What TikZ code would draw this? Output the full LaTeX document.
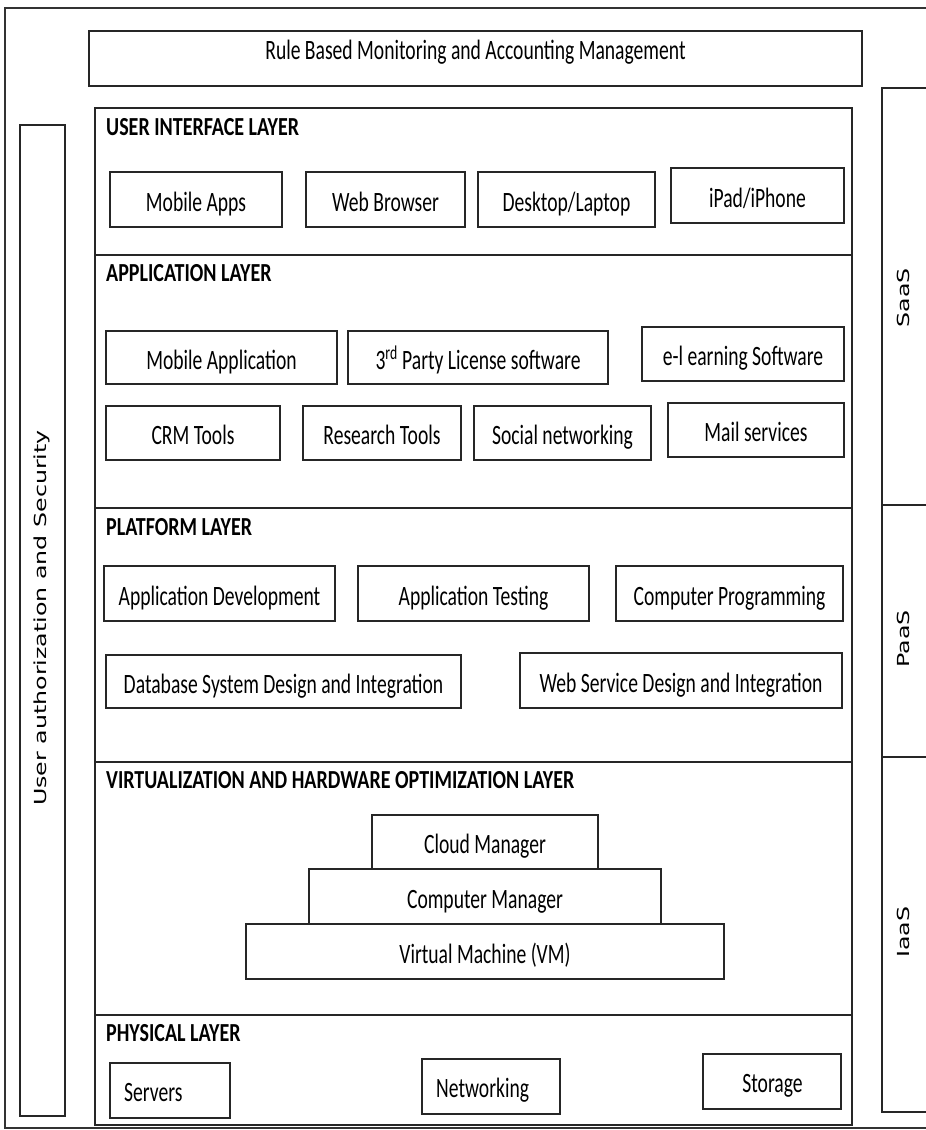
\documentclass[tikz,border=0pt]{standalone}
\usepackage{graphicx}
\usepackage{fontspec}
\setmainfont{Carlito}[FakeStretch=0.7]
\newfontfamily\hdfont{Carlito}[FakeStretch=0.77]
\newfontfamily\vfont{DejaVu Sans}
\usetikzlibrary{calc}
\tikzset{
  bx/.style={draw=black!85, line width=1.2pt, inner sep=0pt, text height=23pt, text depth=0pt, font=\fontsize{28}{31}\selectfont},
  band/.style={draw=black!85, line width=1.2pt, inner sep=0pt},
  hd/.style={anchor=base west, inner sep=0pt, font=\hdfont\bfseries\fontsize{26}{29}\selectfont},
  txt/.style={inner sep=0pt, font=\fontsize{28}{31}\selectfont},
  vtxt/.style={rotate=90, inner sep=0pt, font=\vfont\fontsize{23.7}{26}\selectfont},
  frame/.style={draw=black!80, line width=1.2pt}
}
\begin{document}
\begin{tikzpicture}[x=1pt,y=-1pt]
\useasboundingbox (0,0) rectangle (926,1130);
% outer frame
\coordinate (o1) at (940,8);
\coordinate (o2) at (5,1128);
\coordinate (o3) at (940,1128);
\draw[frame] (o1) -| (o2) -- (o3);
% top box
\node[band, minimum width=773pt, minimum height=55pt] (rule) at (475.5,58.5) {};
\node[txt, anchor=base] (rulet) at (475.5,59) {Rule Based Monitoring and Accounting Management};
% left box
\node[band, minimum width=45pt, minimum height=991pt] (sec) at (42.5,620.5) {};
\node[vtxt] (sect) at (42,618) {\scalebox{1}[0.7]{User authorization and Security}};
% right column
\node[band, minimum width=60pt, minimum height=417pt] (saas) at (912,296.5) {};
\node[band, minimum width=60pt, minimum height=252pt] (paas) at (912,631) {};
\node[band, minimum width=60pt, minimum height=355pt] (iaas) at (912,934.5) {};
\node[vtxt] (saast) at (903,298) {\scalebox{1}[0.7]{SaaS}};
\node[vtxt] (paast) at (903,639) {\scalebox{1}[0.7]{PaaS}};
\node[vtxt] (iaast) at (903,932) {\scalebox{1}[0.7]{IaaS}};
% layer bands
\node[band, minimum width=757pt, minimum height=147pt] (l1) at (473.5,181.5) {};
\node[band, minimum width=757pt, minimum height=253pt] (l2) at (473.5,381.5) {};
\node[band, minimum width=757pt, minimum height=254pt] (l3) at (473.5,635) {};
\node[band, minimum width=757pt, minimum height=253pt] (l4) at (473.5,888.5) {};
\node[band, minimum width=757pt, minimum height=110pt] (l5) at (473.5,1070) {};
% headers
\node[hd] (h1) at (106,135) {USER INTERFACE LAYER};
\node[hd] (h2) at (106,281) {APPLICATION LAYER};
\node[hd] (h3) at (106,535) {PLATFORM LAYER};
\node[hd] (h4) at (106,788) {VIRTUALIZATION AND HARDWARE OPTIMIZATION LAYER};
\node[hd] (h5) at (106,1041) {PHYSICAL LAYER};
% user interface layer
\node[bx, minimum width=172pt, minimum height=55pt] (ma) at (196,199.5) {Mobile Apps};
\node[bx, minimum width=159pt, minimum height=55pt] (wb) at (385.5,199.5) {Web Browser};
\node[bx, minimum width=177pt, minimum height=55pt] (dl) at (566.5,199.5) {Desktop/Laptop};
\node[bx, minimum width=173pt, minimum height=55pt] (ip) at (757.5,195.5) {iPad/iPhone};
% application layer
\node[bx, minimum width=231pt, minimum height=53pt] (mapp) at (221.5,357.5) {Mobile Application};
\node[bx, minimum width=260pt, minimum height=53pt] (tp) at (478,357.5) {3\textsuperscript{rd} Party License software};
\node[bx, minimum width=202pt, minimum height=54pt] (el) at (743,354) {e-l earning Software};
\node[bx, minimum width=174pt, minimum height=54pt] (crm) at (193,433) {CRM Tools};
\node[bx, minimum width=158pt, minimum height=54pt] (rt) at (382,433) {Research Tools};
\node[bx, minimum width=177pt, minimum height=54pt] (sn) at (562.5,433) {Social networking};
\node[bx, minimum width=176pt, minimum height=54pt] (ms) at (756,430) {Mail services};
% platform layer
\node[bx, minimum width=231pt, minimum height=55pt] (ad) at (219.5,593.5) {Application Development};
\node[bx, minimum width=231pt, minimum height=55pt] (at) at (473.5,593.5) {Application Testing};
\node[bx, minimum width=227pt, minimum height=55pt] (cp) at (729.5,593.5) {Computer Programming};
\node[bx, minimum width=355pt, minimum height=53pt] (db) at (283.5,681.5) {Database System Design and Integration};
\node[bx, minimum width=322pt, minimum height=55pt] (ws) at (681,680.5) {Web Service Design and Integration};
% virtualization layer
\node[bx, minimum width=226pt, minimum height=54pt] (cm) at (485,842) {Cloud Manager};
\node[bx, minimum width=352pt, minimum height=55pt] (com) at (485,896.5) {Computer Manager};
\node[bx, minimum width=478pt, minimum height=55pt] (vm) at (485,951.5) {Virtual Machine (VM)};
% physical layer
\node[bx, minimum width=120pt, minimum height=55pt] (srv) at (170,1090.5) {};
\node[bx, minimum width=138pt, minimum height=55pt] (net) at (491,1086.5) {};
\node[bx, minimum width=138pt, minimum height=55pt] (sto) at (772,1081.5) {};
\node[txt, anchor=base west] (srvt) at (124,1101) {Servers};
\node[txt, anchor=base west] (nett) at (436,1097) {Networking};
\node[txt, anchor=base] (stot) at (772.5,1092) {Storage};
\end{tikzpicture}
\end{document}
